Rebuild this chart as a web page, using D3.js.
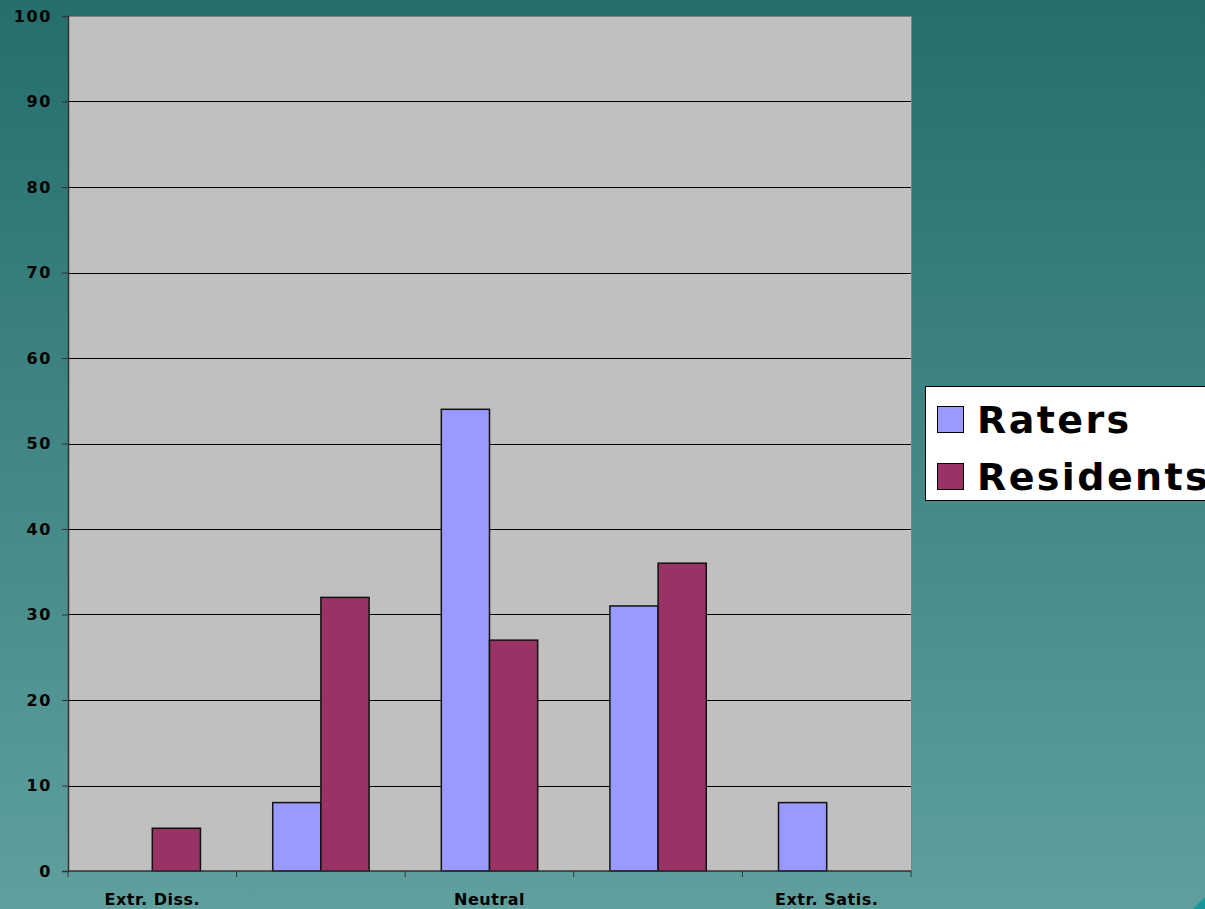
<!DOCTYPE html>
<html>
<head>
<meta charset="utf-8">
<script src="https://cdn.jsdelivr.net/npm/d3@7"></script>
<style>
  html, body { margin: 0; padding: 0; overflow: hidden; }
  svg { display: block; }
</style>
</head>
<body>
<svg id="chart" width="1205" height="909"></svg>
<script>
// data
var categories = ["Extr. Diss.", "", "Neutral", " ", "Extr. Satis."];
var seriesNames = ["Raters", "Residents"];
var raters = [0, 8, 54, 31, 8];
var residents = [5, 32, 27, 36, 0];
var yTicks = [0, 10, 20, 30, 40, 50, 60, 70, 80, 90, 100];
var colours = ["#9999FF", "#993366"];

var svg = d3.select("#chart");
var W = 1205, H = 909;

// background gradient
var defs = svg.append("defs");
var grad = defs.append("linearGradient")
  .attr("id", "bg").attr("x1", 0).attr("y1", 0).attr("x2", 0).attr("y2", 1);
grad.append("stop").attr("offset", "0%").attr("stop-color", "#246E6C");
grad.append("stop").attr("offset", "100%").attr("stop-color", "#5FA09E");
svg.append("rect").attr("width", W).attr("height", H).attr("fill", "url(#bg)");

// little corner triangle
svg.append("polygon")
  .attr("points", "1205,897 1205,909 1193,909")
  .attr("fill", "#14989A");

var pLeft = 68, pTop = 16, pRight = 911, pBottom = 871;

var x0 = d3.scaleBand().domain(d3.range(categories.length)).range([pLeft, pRight]);
var gap = x0.bandwidth() * 1.5 / 3.5;
var x1 = d3.scaleBand().domain(seriesNames)
  .range([gap / 2, x0.bandwidth() - gap / 2]);
var y = d3.scaleLinear().domain([0, 100]).range([pBottom, pTop]);

// plot area
svg.append("rect")
  .attr("x", pLeft + 0.5).attr("y", pTop + 0.5)
  .attr("width", pRight - pLeft).attr("height", pBottom - pTop)
  .attr("fill", "#C0C0C0")
  .attr("stroke", "#808080").attr("stroke-width", 1);

// gridlines
svg.append("g").selectAll("line")
  .data(yTicks.filter(function(d){ return d > 0 && d < 100; }))
  .enter().append("line")
  .attr("x1", pLeft).attr("x2", pRight)
  .attr("y1", function(d){ return Math.round(y(d)) + 0.5; })
  .attr("y2", function(d){ return Math.round(y(d)) + 0.5; })
  .attr("stroke", "#000").attr("stroke-width", 1);

// bars
var rows = categories.map(function(c, i){
  return [{s: "Raters", v: raters[i], c: colours[0]},
          {s: "Residents", v: residents[i], c: colours[1]}];
});
svg.append("g").selectAll("g")
  .data(rows)
  .enter().append("g")
  .attr("transform", function(d, i){ return "translate(" + x0(i) + ",0)"; })
  .selectAll("rect")
  .data(function(d){ return d.filter(function(e){ return e.v > 0; }); })
  .enter().append("rect")
  .attr("x", function(d){ return x1(d.s); })
  .attr("y", function(d){ return y(d.v); })
  .attr("width", x1.bandwidth())
  .attr("height", function(d){ return y(0) - y(d.v); })
  .attr("fill", function(d){ return d.c; })
  .attr("stroke", "#111").attr("stroke-width", 1.5);

// y axis
var yAxis = svg.append("g")
  .attr("transform", "translate(" + pLeft + ",0)")
  .call(d3.axisLeft(y).tickValues(yTicks).tickSize(6).tickPadding(10));
yAxis.select(".domain").attr("stroke", "#333").attr("stroke-width", 1.5);
yAxis.selectAll("line").attr("stroke", "#333");
yAxis.selectAll("text")
  .style("font-family", "'DejaVu Sans', sans-serif")
  .style("font-weight", "bold")
  .style("font-size", "16px")
  .style("letter-spacing", "1.6px")
  .attr("fill", "#000");

// x axis
var xAxis = svg.append("g").attr("transform", "translate(0," + pBottom + ")");
xAxis.append("line")
  .attr("x1", pLeft).attr("x2", pRight).attr("y1", 0).attr("y2", 0)
  .attr("stroke", "#333").attr("stroke-width", 1.5);
xAxis.selectAll("line.tick")
  .data(d3.range(categories.length + 1))
  .enter().append("line").attr("class", "tick")
  .attr("x1", function(i){ return pLeft + i * x0.step(); })
  .attr("x2", function(i){ return pLeft + i * x0.step(); })
  .attr("y1", 0).attr("y2", 6)
  .attr("stroke", "#333");
xAxis.selectAll("text")
  .data(categories)
  .enter().append("text")
  .attr("x", function(d, i){ return x0(i) + x0.bandwidth() / 2; })
  .attr("y", 34)
  .attr("text-anchor", "middle")
  .style("font-family", "'DejaVu Sans', sans-serif")
  .style("font-weight", "bold")
  .style("font-size", "16px")
  .style("letter-spacing", "0.5px")
  .text(function(d){ return d.trim(); });

// legend
var legend = svg.append("g");
legend.append("rect")
  .attr("x", 925.5).attr("y", 386.5).attr("width", 300).attr("height", 114)
  .attr("fill", "#fff").attr("stroke", "#000");
seriesNames.forEach(function(name, i){
  var ly = 406 + i * 57;
  legend.append("rect")
    .attr("x", 937.5).attr("y", ly + 0.5).attr("width", 26).attr("height", 26)
    .attr("fill", colours[i]).attr("stroke", "#000");
  legend.append("text")
    .attr("x", 977).attr("y", ly + 27)
    .style("font-family", "'DejaVu Sans', sans-serif")
    .style("font-weight", "bold")
    .style("font-size", "38px")
    .style("letter-spacing", "2.4px")
    .text(name);
});
</script>
</body>
</html>
